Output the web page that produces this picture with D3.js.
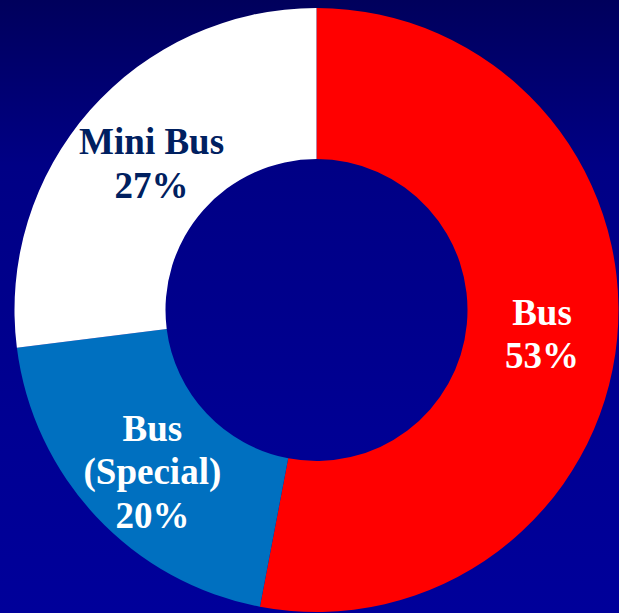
<!DOCTYPE html>
<html>
<head>
<meta charset="utf-8">
<script src="https://cdn.jsdelivr.net/npm/d3@7"></script>
<style>
html,body{margin:0;padding:0;overflow:hidden;}
svg{display:block;}
</style>
</head>
<body>
<svg id="chart" width="619" height="613"></svg>
<script>
const categories = ["Bus", "Bus (Special)", "Mini Bus"];
const values = [53, 20, 27];
const labelLines = [["Bus", "53%"], ["Bus", "(Special)", "20%"], ["Mini Bus", "27%"]];
const colors = ["#FF0000", "#0070C0", "#FFFFFF"];
const textColors = ["#FFFFFF", "#FFFFFF", "#002060"];

const W = 619, H = 613;
const cx = 316.5, cy = 310, R = 302, r = 151;
const svg = d3.select("#chart");

const defs = svg.append("defs");
const grad = defs.append("linearGradient").attr("id", "bg").attr("x1", 0).attr("y1", 0).attr("x2", 0).attr("y2", 1);
[["0%", "#00005C"], ["27%", "#000085"], ["50%", "#00008C"], ["70%", "#000093"], ["100%", "#00009A"]]
  .forEach(([o, c]) => grad.append("stop").attr("offset", o).attr("stop-color", c));
svg.append("rect").attr("width", W).attr("height", H).attr("fill", "url(#bg)");

const data = categories.map((c, i) => ({ cat: c, value: values[i], i }));
const pie = d3.pie().value(d => d.value).sort(null);
const arc = d3.arc().innerRadius(r).outerRadius(R);
const arcs = pie(data);

const g = svg.append("g").attr("transform", `translate(${cx},${cy})`);
g.selectAll("path").data(arcs).join("path")
  .attr("d", arc)
  .attr("fill", d => colors[d.data.i]);

// small label nudges (layout only)
const nudge = [[0, 0], [1, 4], [5, 1]];
const lh = 43.5;
const labels = g.selectAll("text.lbl").data(arcs).join("text")
  .attr("class", "lbl")
  .attr("text-anchor", "middle")
  .attr("font-family", "'Liberation Serif', 'Times New Roman', serif")
  .attr("font-weight", "bold")
  .attr("font-size", "37px")
  .attr("fill", d => textColors[d.data.i])
  .attr("transform", d => {
    const [x, y] = arc.centroid(d);
    const [nx, ny] = nudge[d.data.i];
    return `translate(${x + nx},${y + ny})`;
  });

labels.each(function(d) {
  const lines = labelLines[d.data.i];
  const n = lines.length;
  d3.select(this).selectAll("tspan").data(lines).join("tspan")
    .attr("x", 0)
    .attr("y", (t, k) => -(n - 1) * lh / 2 + k * lh + 15)
    .text(t => t);
});
</script>
</body>
</html>
